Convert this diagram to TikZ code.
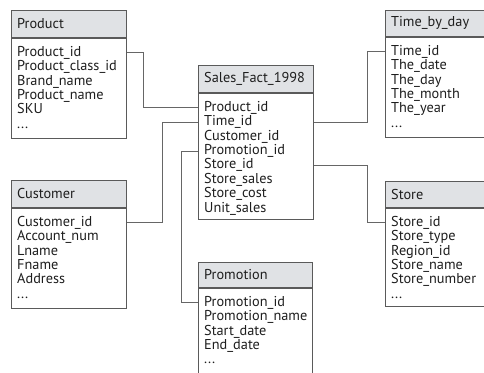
\documentclass[tikz,border=0pt]{standalone}
\usepackage{fontspec}
\setmainfont{PT Sans}
\usetikzlibrary{calc}
\definecolor{boxline}{HTML}{5A5A5A}
\definecolor{hdrfill}{HTML}{E0E2E5}
\definecolor{conn}{HTML}{666666}
\definecolor{txt}{HTML}{1E1E1E}
\newcommand\moredots{...}
\tikzset{
  hdr/.style={draw=boxline, fill=hdrfill, line width=0.8pt, inner sep=0pt},
  bodybox/.style={draw=boxline, fill=white, line width=0.8pt, inner sep=0pt},
  rowtxt/.style={inner sep=0pt, font=\fontsize{14.3}{15}\selectfont, text=txt},
  conline/.style={draw=conn, line width=0.8pt},
}
\newcommand\erbox[8]{%
  \node[hdr, anchor=north west, minimum width=#4, minimum height=#5] (#1) at (#2,#3) {};
  \node[rowtxt, anchor=west] (#1-t) at ($(#1.west)+(6,0)$) {#7};
  \node[bodybox, anchor=north west, minimum width=#4, minimum height=#6] (#1b) at (#1.south west) {};
  \foreach \t [count=\i] in {#8} {
    \pgfmathsetmacro\yy{18.5+(\i-1)*14.4}
    \node[rowtxt, anchor=base west] (#1-\i) at ($(#1b.north west)+(6,\yy)$) {\t};
  }%
}
\begin{document}
\begin{tikzpicture}[x=1pt,y=-1pt]
\clip (0,0) rectangle (484,372);
\fill[white] (0,0) rectangle (484,372);
\erbox{product}{11}{10}{115}{27}{100}{Product}{Product\_id,Product\_class\_id,Brand\_name,Product\_name,SKU,\moredots}
\erbox{sales}{198}{65}{115}{27}{126}{Sales\_Fact\_1998}{Product\_id,Time\_id,Customer\_id,Promotion\_id,Store\_id,Store\_sales,Store\_cost,Unit\_sales}
\erbox{time}{385}{10}{110}{26}{100}{Time\_by\_day}{Time\_id,The\_date,The\_day,The\_month,The\_year,\moredots}
\erbox{customer}{11}{180}{115}{27}{100}{Customer}{Customer\_id,Account\_num,Lname,Fname,Address,\moredots}
\erbox{store}{385}{181}{110}{26}{98}{Store}{Store\_id,Store\_type,Region\_id,Store\_name,Store\_number,\moredots}
\erbox{promotion}{198}{262}{114}{25}{120}{Promotion}{Promotion\_id,Promotion\_name,Start\_date,End\_date,\moredots}
\coordinate (c1) at (143,0);
\coordinate (c2) at (162,0);
\coordinate (c3) at (181,0);
\coordinate (c4) at (367,0);
\draw[conline] (productb.east |- product-1) -| (c1 |- sales-1) -- (salesb.west |- sales-1);
\draw[conline] (customerb.east |- customer-1) -| (c2 |- sales-2) -- (salesb.west |- sales-2);
\draw[conline] (salesb.west |- sales-4) -| (c3 |- promotion-1) -- (promotionb.west |- promotion-1);
\draw[conline] (salesb.east |- sales-2) -| (c4 |- time-1) -- (timeb.west |- time-1);
\draw[conline] (salesb.east |- sales-5) -| (c4 |- store-1) -- (storeb.west |- store-1);
\end{tikzpicture}
\end{document}
